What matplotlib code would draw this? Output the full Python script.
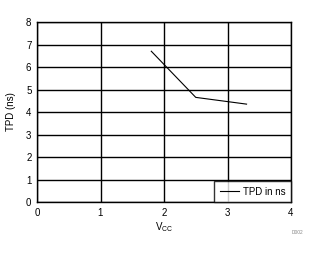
import matplotlib
matplotlib.use("Agg")
import matplotlib.pyplot as plt

vcc = [1.8, 2.5, 3.3]
tpd = [6.7, 4.65, 4.35]
xticks = [0, 1, 2, 3, 4]
yticks = [0, 1, 2, 3, 4, 5, 6, 7, 8]

plt.rcParams['font.family'] = ['Liberation Sans', 'DejaVu Sans']
plt.rcParams['font.size'] = 7

fig = plt.figure(figsize=(3.2, 2.54), dpi=100)
ax = fig.add_axes([37/320, 1-202/254, 254/320, 180/254])
ax.plot(vcc, tpd, color='black', lw=0.8, label='TPD in ns')
ax.set_xlim(0, 4)
ax.set_ylim(0, 8)
ax.set_xticks(xticks)
ax.set_yticks(yticks)
ax.grid(True, color='black', lw=1.0)
ax.set_axisbelow(True)
for s in ax.spines.values():
    s.set_color('black')
    s.set_linewidth(1.0)
ax.tick_params(length=0, pad=4, labelsize=7)
ax.set_xlabel('V$_{\\mathregular{CC}}$', fontsize=7, labelpad=2)
ax.set_ylabel('TPD (ns)', fontsize=7, labelpad=7)
leg = ax.legend(loc='lower right', frameon=True, fancybox=False, fontsize=7,
                borderaxespad=0, handlelength=2.0, handletextpad=0.4,
                borderpad=0.55)
leg.get_frame().set_edgecolor('black')
leg.get_frame().set_linewidth(1.0)
fig.text(298/320, 1-233/254, 'D002', fontsize=3.5, color='#888888', ha='center', va='center')
fig.savefig('out.png', dpi=100)
